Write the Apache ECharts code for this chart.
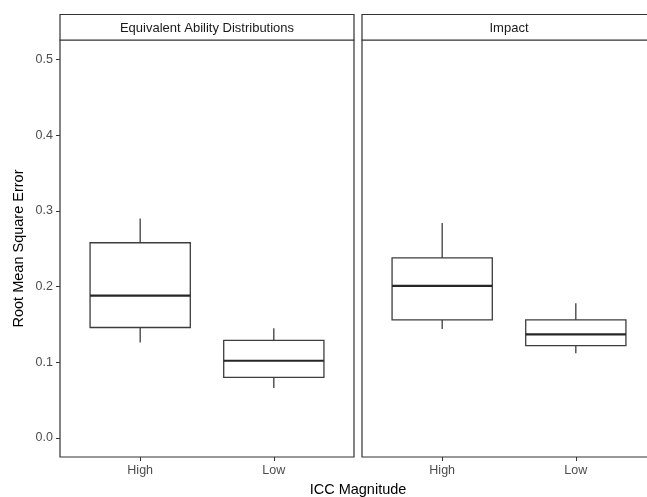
<!DOCTYPE html>
<html>
<head>
<meta charset="utf-8">
<script src="https://cdn.jsdelivr.net/npm/echarts@6/dist/echarts.min.js"></script>
<style>
html,body{margin:0;padding:0;background:#fff;overflow:hidden;}
#chart{width:664px;height:497px;}
</style>
</head>
<body>
<div id="chart"></div>
<script>
// ---- data ----
const categories = ['High', 'Low'];
const panels = ['Equivalent Ability Distributions', 'Impact'];
// [lower whisker, Q1, median, Q3, upper whisker]
const eadHigh = [0.126, 0.146, 0.188, 0.258, 0.290];
const eadLow = [0.066, 0.080, 0.102, 0.129, 0.145];
const impactHigh = [0.144, 0.156, 0.201, 0.238, 0.284];
const impactLow = [0.112, 0.122, 0.137, 0.156, 0.178];
const yTicks = [0.0, 0.1, 0.2, 0.3, 0.4, 0.5];
const xTitle = 'ICC Magnitude';
const yTitle = 'Root Mean Square Error';

// ---- build ----
const panelData = [
  [[1].concat(eadHigh), [2].concat(eadLow)],
  [[1].concat(impactHigh), [2].concat(impactLow)]
];

const lineCol = '#3d3d3d';
function renderBox(params, api) {
  const x = api.value(0);
  const lo = api.coord([x, api.value(1)]);
  const q1 = api.coord([x, api.value(2)]);
  const md = api.coord([x, api.value(3)]);
  const q3 = api.coord([x, api.value(4)]);
  const hi = api.coord([x, api.value(5)]);
  const w = api.size([0.75, 0])[0];
  const cx = lo[0];
  const left = cx - w / 2;
  const right = cx + w / 2;
  const st = {stroke: lineCol, lineWidth: 1.3, fill: null};
  return {
    type: 'group',
    children: [
      {type: 'line', shape: {x1: cx, y1: hi[1], x2: cx, y2: q3[1]}, style: st},
      {type: 'line', shape: {x1: cx, y1: q1[1], x2: cx, y2: lo[1]}, style: st},
      {type: 'rect', shape: {x: left, y: q3[1], width: right - left, height: q1[1] - q3[1]}, style: {stroke: lineCol, lineWidth: 1.3, fill: '#ffffff'}},
      {type: 'line', shape: {x1: left, y1: md[1], x2: right, y2: md[1]}, style: {stroke: '#262626', lineWidth: 2.2}}
    ]
  };
}

const gridTop = 40, gridH = 417, panelW = 294;
const gridLefts = [60, 362];
const font = 'Liberation Sans, Arial, sans-serif';

const grids = gridLefts.map(l => ({
  left: l, top: gridTop, width: panelW, height: gridH,
  show: true, borderColor: '#333', borderWidth: 1.2, backgroundColor: '#fff'
}));

const xAxes = gridLefts.map((l, i) => ({
  type: 'value', gridIndex: i, min: 0.4, max: 2.6, position: 'bottom',
  axisLine: {show: false, onZero: false},
  splitLine: {show: false},
  axisTick: {show: true, length: 4, lineStyle: {color: '#333'}, customValues: [1, 2]},
  axisLabel: {
    customValues: [1, 2], margin: 7, color: '#4d4d4d', fontSize: 12.5, fontFamily: font,
    formatter: v => categories[Math.round(v) - 1] || ''
  }
}));

const yAxes = gridLefts.map((l, i) => ({
  type: 'value', gridIndex: i, min: -0.0252, max: 0.526, position: 'left',
  axisLine: {show: false, onZero: false},
  splitLine: {show: false},
  axisTick: {show: i === 0, length: 4, lineStyle: {color: '#333'}, customValues: yTicks},
  axisLabel: {
    show: i === 0, customValues: yTicks, margin: 7, color: '#4d4d4d', fontSize: 12.5, fontFamily: font,
    formatter: v => v.toFixed(1)
  },
  name: i === 0 ? yTitle : '',
  nameLocation: 'middle', nameGap: 34,
  nameTextStyle: {color: '#000', fontSize: 14.5, fontFamily: font}
}));

const series = panelData.map((d, i) => ({
  type: 'custom', xAxisIndex: i, yAxisIndex: i,
  renderItem: renderBox, data: d, silent: true
}));

const graphics = [];
gridLefts.forEach((l, i) => {
  graphics.push({
    type: 'rect', silent: true,
    shape: {x: l, y: 14.5, width: panelW, height: gridTop - 14.5},
    style: {fill: '#fff', stroke: '#333', lineWidth: 1.2}
  });
  graphics.push({
    type: 'text', silent: true,
    x: l + panelW / 2, y: 28,
    style: {text: panels[i], fill: '#1a1a1a', font: '13px ' + font, textAlign: 'center', textVerticalAlign: 'middle'}
  });
});
graphics.push({
  type: 'text', silent: true, x: 358, y: 490,
  style: {text: xTitle, fill: '#000', font: '14.5px ' + font, textAlign: 'center', textVerticalAlign: 'middle'}
});

const chart = echarts.init(document.getElementById('chart'), null, {renderer: 'canvas'});
chart.setOption({
  backgroundColor: '#fff',
  animation: false,
  grid: grids,
  xAxis: xAxes,
  yAxis: yAxes,
  series: series,
  graphic: graphics
});
</script>
</body>
</html>
